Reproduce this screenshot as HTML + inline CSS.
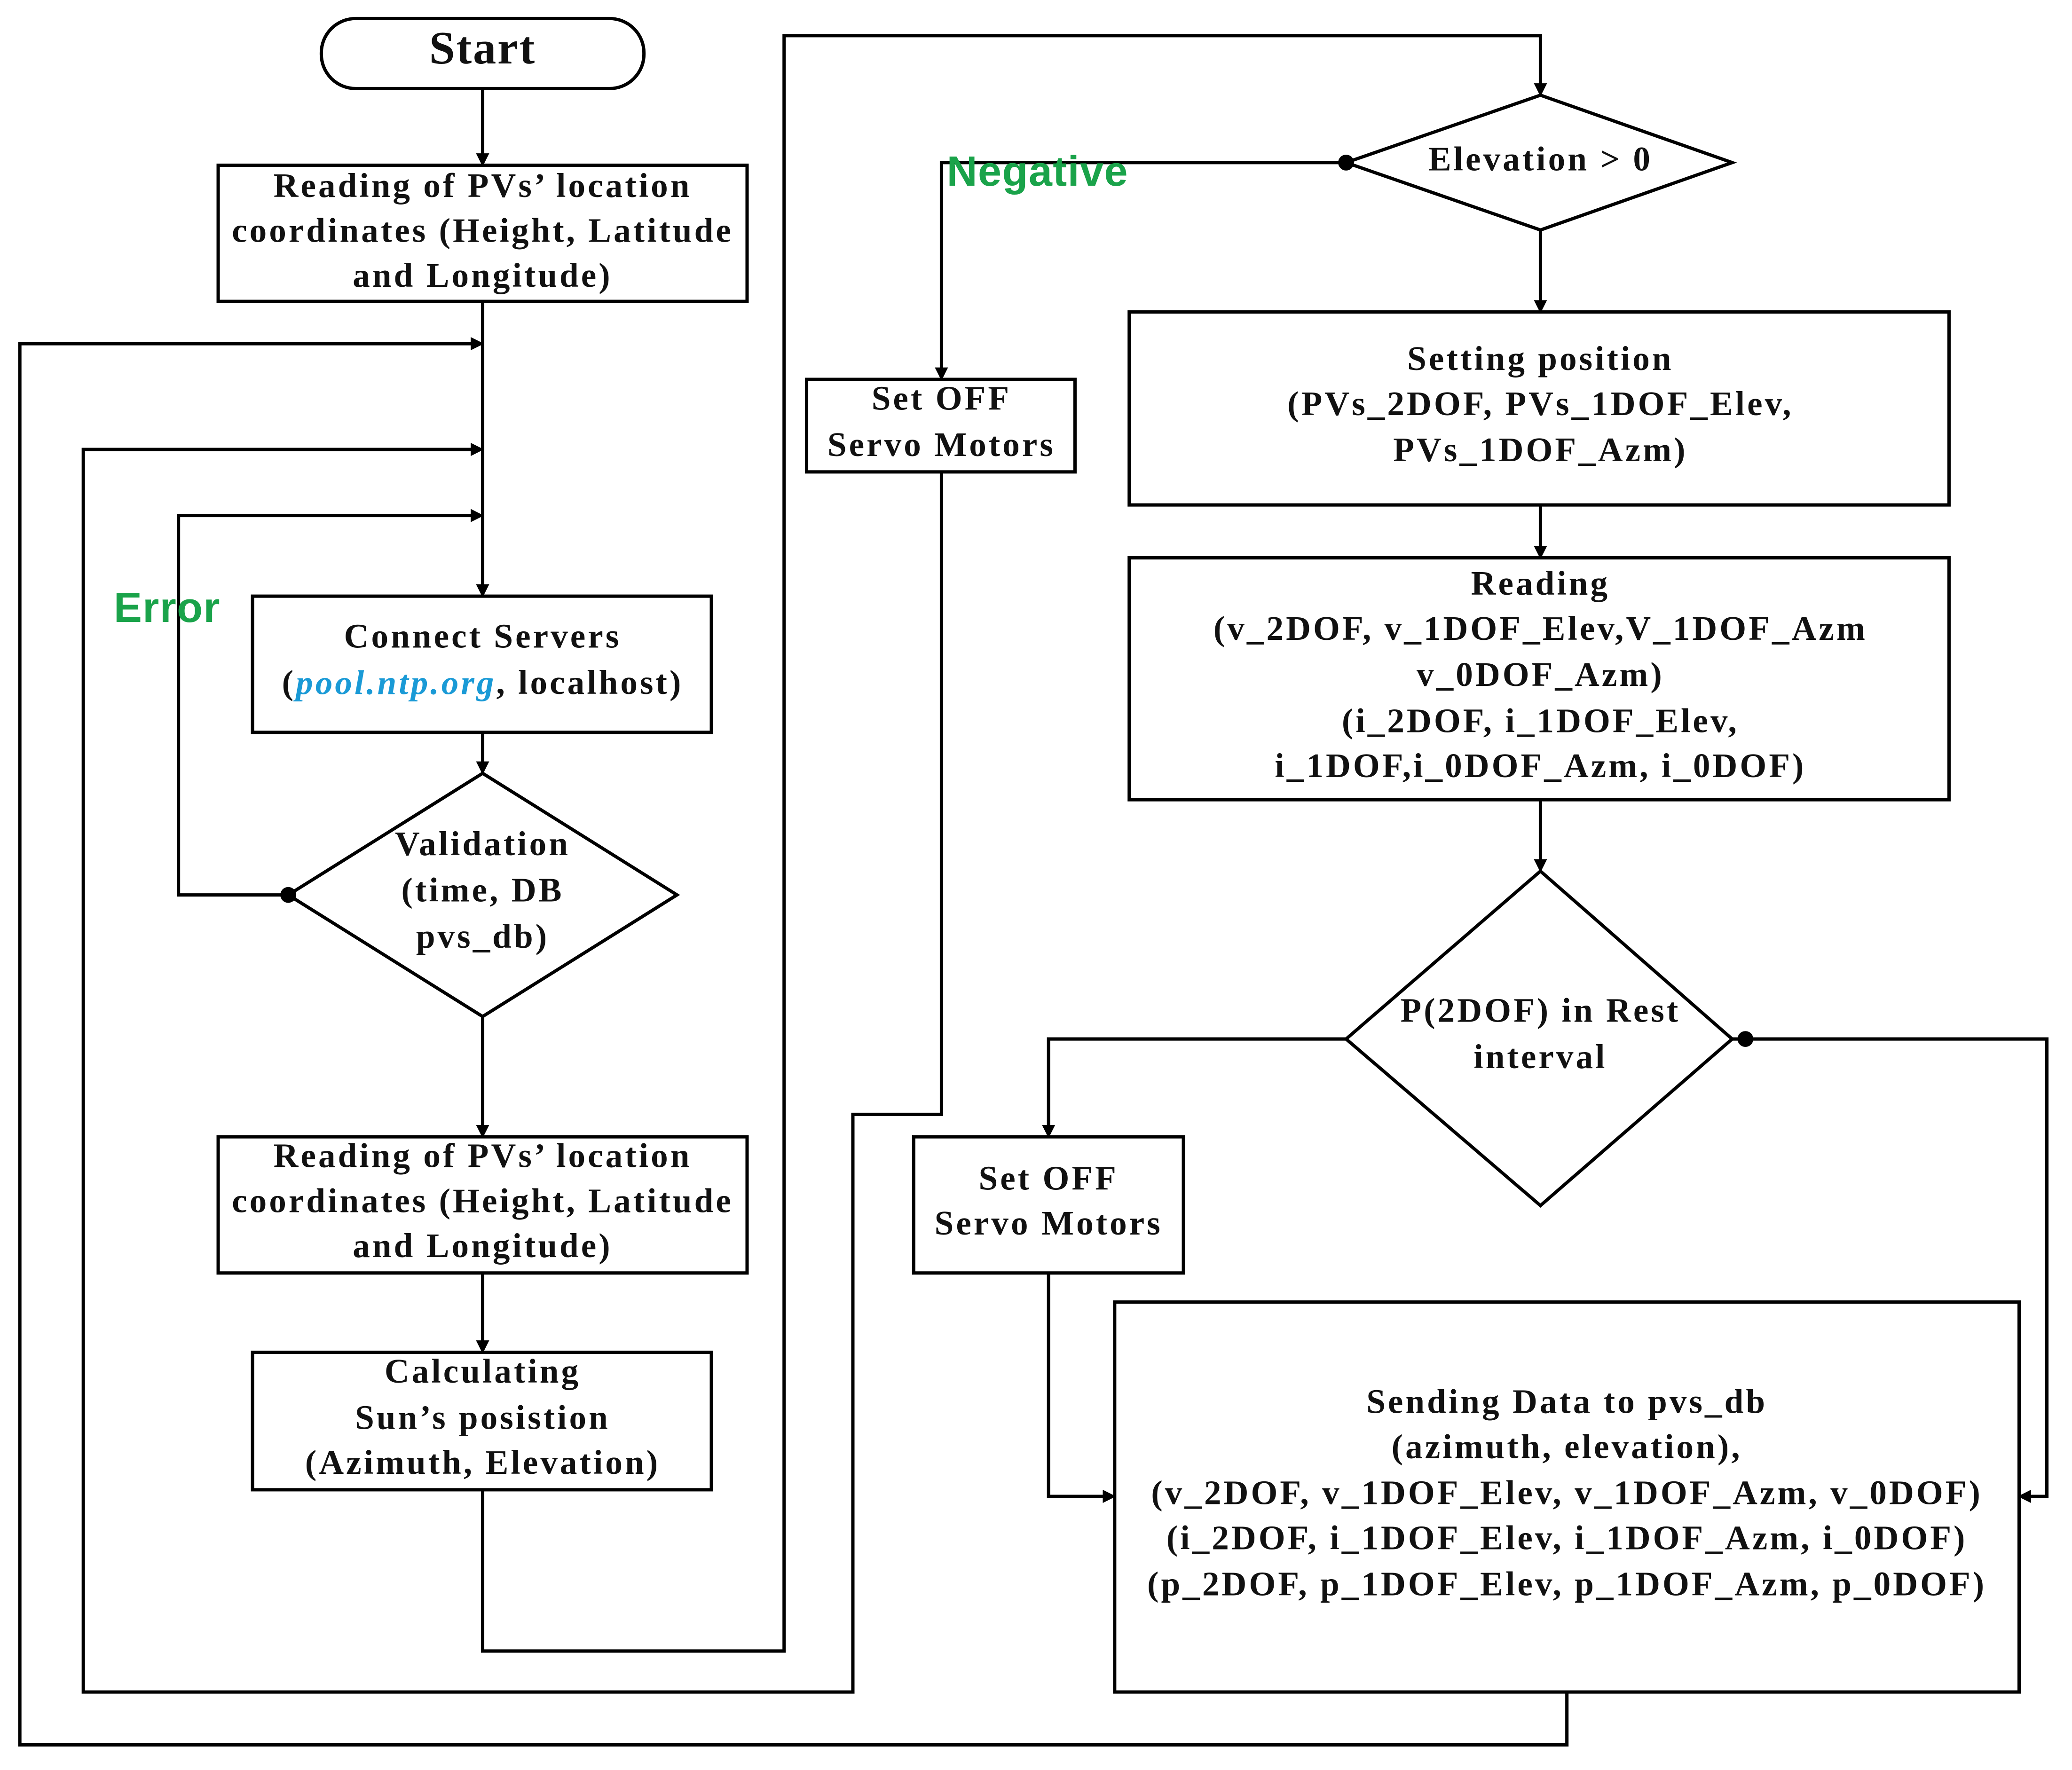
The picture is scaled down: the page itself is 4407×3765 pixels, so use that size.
<!DOCTYPE html>
<html><head><meta charset="utf-8"><style>
html,body{margin:0;padding:0;background:#fff;}
svg{display:block;}
text{font-family:"Liberation Serif",serif;font-weight:bold;font-size:26px;fill:#111;text-anchor:middle;dominant-baseline:middle;letter-spacing:1.8px;}
.g{font-family:"Liberation Sans",sans-serif;fill:#1aa34a;font-size:32px;text-anchor:start;letter-spacing:0.5px;}
</style></head><body>
<svg width="4407" height="3765" viewBox="0 0 1567 1339" preserveAspectRatio="none" xmlns="http://www.w3.org/2000/svg">
<defs><marker id="a" markerWidth="10" markerHeight="10" refX="9" refY="5" orient="auto" markerUnits="userSpaceOnUse"><path d="M0,0 L10,5 L0,10 z" fill="#000"/></marker></defs>
<g fill="none" stroke="#000" stroke-width="2.5">
<rect x="243" y="14" width="244" height="53" rx="26"/>
<rect x="165" y="125" width="400" height="103"/>
<rect x="191" y="451" width="347" height="103"/>
<polygon points="365,585 512,677 365,769 218,677"/>
<rect x="165" y="860" width="400" height="103"/>
<rect x="191" y="1023" width="347" height="104"/>
<polygon points="1165,72 1310,123 1165,174 1018,123"/>
<rect x="610" y="287" width="203" height="70"/>
<rect x="854" y="236" width="620" height="146"/>
<rect x="854" y="422" width="620" height="183"/>
<polygon points="1165,659 1310,786 1165,912 1018,786"/>
<rect x="691" y="860" width="204" height="103"/>
<rect x="843" y="985" width="684" height="295"/>
<path d="M365,67 V125" marker-end="url(#a)"/>
<path d="M365,228 V451" marker-end="url(#a)"/>
<path d="M1185,1280 V1320 H15 V260 H365" marker-end="url(#a)"/>
<path d="M712,357 V843 H645 V1280 H63 V340 H365" marker-end="url(#a)"/>
<path d="M218,677 H135 V390 H365" marker-end="url(#a)"/>
<path d="M365,554 V585" marker-end="url(#a)"/>
<path d="M365,769 V860" marker-end="url(#a)"/>
<path d="M365,963 V1023" marker-end="url(#a)"/>
<path d="M365,1127 V1249 H593 V27 H1165 V72" marker-end="url(#a)"/>
<path d="M1018,123 H712 V287" marker-end="url(#a)"/>
<path d="M1165,174 V236" marker-end="url(#a)"/>
<path d="M1165,382 V422" marker-end="url(#a)"/>
<path d="M1165,605 V659" marker-end="url(#a)"/>
<path d="M1018,786 H793 V860" marker-end="url(#a)"/>
<path d="M793,963 V1132 H843" marker-end="url(#a)"/>
<path d="M1310,786 H1548 V1132 H1527" marker-end="url(#a)"/>
</g>
<circle cx="218" cy="677" r="6" fill="#000"/>
<circle cx="1018" cy="123" r="6" fill="#000"/>
<circle cx="1320" cy="786" r="6" fill="#000"/>
<text x="365" y="40" style="font-size:35px;letter-spacing:1px">Start</text>
<text x="365" y="143">Reading of PVs’ location</text>
<text x="365" y="177">coordinates (Height, Latitude</text>
<text x="365" y="211">and Longitude)</text>
<text class="g" x="86" y="462">Error</text>
<text x="365" y="484">Connect Servers</text>
<text x="365" y="519">(<tspan style="fill:#1a9ad6;font-style:italic">pool.ntp.org</tspan>, localhost)</text>
<text x="365" y="641">Validation</text>
<text x="365" y="676">(time, DB</text>
<text x="365" y="711">pvs_db)</text>
<text x="365" y="877">Reading of PVs’ location</text>
<text x="365" y="911">coordinates (Height, Latitude</text>
<text x="365" y="945">and Longitude)</text>
<text x="365" y="1040">Calculating</text>
<text x="365" y="1075">Sun’s posistion</text>
<text x="365" y="1109">(Azimuth, Elevation)</text>
<text x="1165" y="123">Elevation &gt; 0</text>
<text class="g" x="716" y="132">Negative</text>
<text x="712" y="304">Set OFF</text>
<text x="712" y="339">Servo Motors</text>
<text x="1165" y="274">Setting position</text>
<text x="1165" y="308">(PVs_2DOF, PVs_1DOF_Elev,</text>
<text x="1165" y="343">PVs_1DOF_Azm)</text>
<text x="1165" y="444">Reading</text>
<text x="1165" y="478">(v_2DOF, v_1DOF_Elev,V_1DOF_Azm</text>
<text x="1165" y="513">v_0DOF_Azm)</text>
<text x="1165" y="548">(i_2DOF, i_1DOF_Elev,</text>
<text x="1165" y="582">i_1DOF,i_0DOF_Azm, i_0DOF)</text>
<text x="1165" y="767">P(2DOF) in Rest</text>
<text x="1165" y="802">interval</text>
<text x="793" y="894">Set OFF</text>
<text x="793" y="928">Servo Motors</text>
<text x="1185" y="1063">Sending Data to pvs_db</text>
<text x="1185" y="1097">(azimuth, elevation),</text>
<text x="1185" y="1132">(v_2DOF, v_1DOF_Elev, v_1DOF_Azm, v_0DOF)</text>
<text x="1185" y="1166">(i_2DOF, i_1DOF_Elev, i_1DOF_Azm, i_0DOF)</text>
<text x="1185" y="1201">(p_2DOF, p_1DOF_Elev, p_1DOF_Azm, p_0DOF)</text>
</svg>
</body></html>
